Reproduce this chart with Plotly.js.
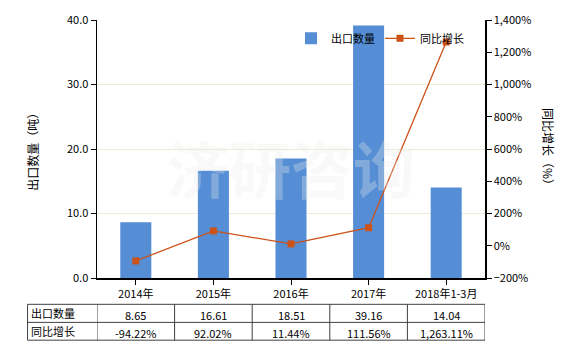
<!DOCTYPE html>
<html><head><meta charset="utf-8">
<script src="https://cdn.plot.ly/plotly-3.0.1.min.js"></script>
<style>html,body{margin:0;padding:0;background:#fff}#chart{width:580px;height:350px}</style>
</head><body><div id="chart"></div>
<script>
const categories = ["2014年","2015年","2016年","2017年","2018年1-3月"];
const exportQty = [8.65, 16.61, 18.51, 39.16, 14.04];
const yoyGrowth = [-94.22, 92.02, 11.44, 111.56, 1263.11];
const qtyLabels = ["8.65","16.61","18.51","39.16","14.04"];
const yoyLabels = ["-94.22%","92.02%","11.44%","111.56%","1,263.11%"];
const seriesNames = ["出口数量","同比增长"];

const font = "'Noto Sans CJK SC', 'Noto Sans', sans-serif";
const idx = categories.map((c,i)=>i);

const traces = [
  {type:'bar', name:seriesNames[0], x:idx, y:exportQty, marker:{color:'#558ed5'}, width:0.4, yaxis:'y'},
  {type:'scatter', mode:'lines+markers', name:seriesNames[1], x:idx, y:yoyGrowth, yaxis:'y2',
   line:{color:'#cc5218', width:1.3}, marker:{symbol:'square', size:7, color:'#cc5218'}}
];

const yTop = -0.102, yMid = -0.172, yBot = -0.241, xLeft = -0.179;
const lc = '#404040';
const shapes = [];
[yTop, yMid, yBot].forEach(y=>shapes.push({type:'line', xref:'paper', yref:'paper', x0:xLeft, x1:1, y0:y, y1:y, line:{color:lc,width:1}}));
shapes.push({type:'line', xref:'paper', yref:'paper', x0:xLeft, x1:xLeft, y0:yTop, y1:yBot, line:{color:lc,width:1}});
for (let i=0;i<=categories.length;i++){
  shapes.push({type:'line', xref:'x', yref:'paper', x0:i-0.5, x1:i-0.5, y0:yTop, y1:yBot, line:{color:lc,width:1}});
}
const annotations = [];
const rowY = [(yTop+yMid)/2, (yMid+yBot)/2];
annotations.push({xref:'paper', yref:'paper', x:xLeft+0.005, y:rowY[0], xanchor:'left', yanchor:'middle', text:seriesNames[0], showarrow:false, font:{family:font,size:11,color:'#000'}});
annotations.push({xref:'paper', yref:'paper', x:xLeft+0.005, y:rowY[1], xanchor:'left', yanchor:'middle', text:seriesNames[1], showarrow:false, font:{family:font,size:11,color:'#000'}});
idx.forEach(i=>{
  annotations.push({xref:'x', yref:'paper', x:i, y:rowY[0]-0.008, xanchor:'center', yanchor:'middle', text:qtyLabels[i], showarrow:false, font:{family:font,size:11,color:'#000'}});
  annotations.push({xref:'x', yref:'paper', x:i, y:rowY[1]-0.008, xanchor:'center', yanchor:'middle', text:yoyLabels[i], showarrow:false, font:{family:font,size:11,color:'#000'}});
});
annotations.push({xref:'paper', yref:'paper', x:-0.168, y:0.5, xanchor:'center', yanchor:'middle', text:'出口数量（吨）', textangle:-90, showarrow:false, font:{family:font,size:12,color:'#000'}});
annotations.push({xref:'paper', yref:'paper', x:1.165, y:0.5, xanchor:'center', yanchor:'middle', text:'同比增长（%）', textangle:90, showarrow:false, font:{family:font,size:12,color:'#000'}});
annotations.push({xref:'paper', yref:'paper', x:0.5, y:0.43, xanchor:'center', yanchor:'middle', text:'<b>济研咨询</b>', showarrow:false, font:{family:font,size:62,color:'rgba(235,235,235,0.3)'}});

const layout = {
  width:580, height:350,
  margin:{l:97, r:95, t:20, b:72},
  paper_bgcolor:'#fff', plot_bgcolor:'#fff',
  font:{family:font, size:11, color:'#000'},
  showlegend:true,
  legend:{orientation:'h', x:0.5, y:0.985, xanchor:'left', yanchor:'top', bgcolor:'rgba(0,0,0,0)', font:{family:font,size:11}, itemwidth:30},
  xaxis:{tickvals:idx, ticktext:categories, range:[-0.5,4.5], showline:true, linecolor:'#000', linewidth:1.5,
         ticks:'outside', ticklen:5, tickcolor:'#000', showgrid:false, zeroline:false, tickfont:{family:font,size:11}},
  yaxis:{range:[0,40], dtick:10, tickformat:'.1f', showline:true, linecolor:'#000', linewidth:1.5,
         ticks:'outside', ticklen:5, tickcolor:'#000', gridcolor:'#efe9d6', zeroline:false, tickfont:{family:font,size:11}},
  yaxis2:{overlaying:'y', side:'right', range:[-200,1400], dtick:200, tickformat:',.0f', ticksuffix:'%',
          showline:true, linecolor:'#000', linewidth:1.5, ticks:'outside', ticklen:5, tickcolor:'#000',
          showgrid:false, zeroline:false, tickfont:{family:font,size:11}},
  shapes:shapes, annotations:annotations,
  bargap:0.6
};
Plotly.newPlot('chart', traces, layout, {displayModeBar:false, staticPlot:true});
</script></body></html>
